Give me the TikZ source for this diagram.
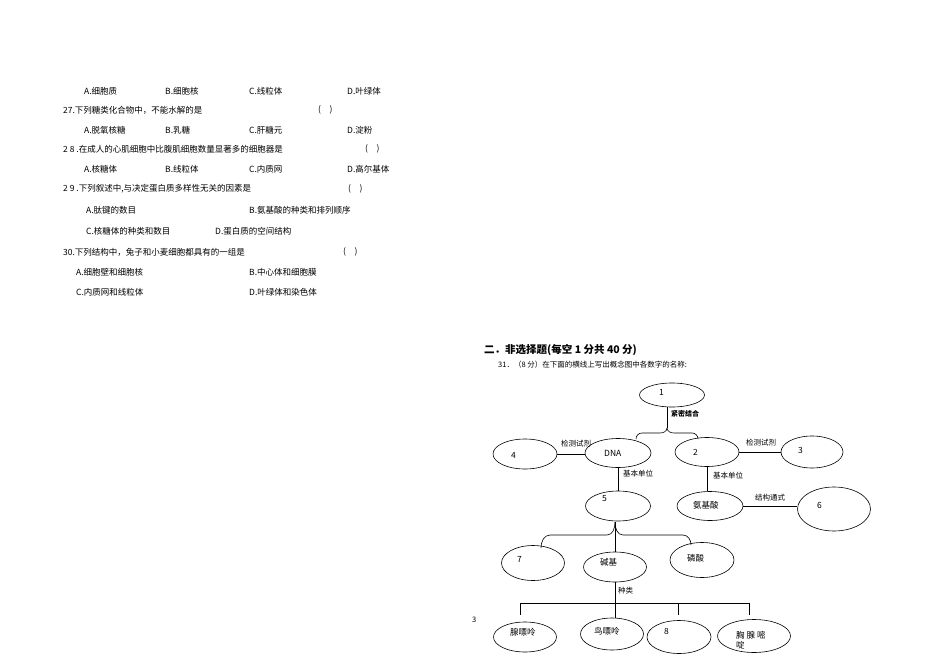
\documentclass[tikz,border=0pt]{standalone}
\usepackage{fontspec}
\setmainfont{Liberation Serif}
\newfontfamily\cjk{Noto Sans CJK SC}
\usetikzlibrary{shapes.geometric}
\begin{document}
\begin{tikzpicture}[x=1pt,y=-1pt,
  el/.style={draw,ellipse,line width=0.6pt,inner sep=0pt},
  tx/.style={anchor=west,inner sep=0pt,font=\cjk\fontsize{8.5}{10}\selectfont},
  lb/.style={anchor=west,inner sep=0pt,font=\cjk\fontsize{7.5}{9}\selectfont},
  ln/.style={line width=0.6pt}]
\useasboundingbox (0,0) rectangle (950,671);
% questions
\foreach \y/\a/\b/\c/\d in {91/A.细胞质/B.细胞核/C.线粒体/D.叶绿体,130/A.脱氧核糖/B.乳糖/C.肝糖元/D.淀粉,169/A.核糖体/B.线粒体/C.内质网/D.高尔基体}{
  \node[tx] at (84,\y) {\a}; \node[tx] at (165,\y) {\b}; \node[tx] at (249,\y) {\c}; \node[tx] at (347,\y) {\d};}
\node[tx] at (63,110) {27.下列糖类化合物中，不能水解的是};
\node[tx] at (318,110) {(\quad)};
\node[tx] at (63,149) {2 8 .在成人的心肌细胞中比腹肌细胞数量显著多的细胞器是};
\node[tx] at (365,149) {(\quad)};
\node[tx] at (63,189) {2 9 .下列叙述中,与决定蛋白质多样性无关的因素是};
\node[tx] at (348,189) {(\quad)};
\node[tx] at (86,210) {A.肽键的数目};
\node[tx] at (249,210) {B.氨基酸的种类和排列顺序};
\node[tx] at (86,231) {C.核糖体的种类和数目};
\node[tx] at (215,231) {D.蛋白质的空间结构};
\node[tx] at (63,252) {30.下列结构中，兔子和小麦细胞都具有的一组是};
\node[tx] at (343,252) {(\quad)};
\node[tx] at (76,272) {A.细胞壁和细胞核};
\node[tx] at (249,272) {B.中心体和细胞膜};
\node[tx] at (76,292) {C.内质网和线粒体};
\node[tx] at (249,292) {D.叶绿体和染色体};
% heading
\node[anchor=west,inner sep=0pt,font=\cjk\bfseries\fontsize{10.5}{12}\selectfont] at (484,350) {二．非选择题(每空 1 分共 40 分)};
\node[lb] at (498,365) {31．（8 分）在下面的横线上写出概念图中各数字的名称:};
\node[lb] at (472,620) {3};
% ellipses
\node[el,minimum width=65pt,minimum height=24pt] (n1) at (672,395) {};
\node[el,minimum width=66pt,minimum height=29pt] (dna) at (618,453) {};
\node[el,minimum width=64pt,minimum height=29pt] (n2) at (707,452) {};
\node[el,minimum width=64pt,minimum height=30pt] (n4) at (525,454) {};
\node[el,minimum width=62pt,minimum height=32pt] (n3) at (812,452) {};
\node[el,minimum width=65pt,minimum height=30pt] (n5) at (618,506) {};
\node[el,minimum width=66pt,minimum height=29pt] (aa) at (710,506) {};
\node[el,minimum width=73pt,minimum height=44pt] (n6) at (834,509) {};
\node[el,minimum width=63pt,minimum height=35pt] (n7) at (533,563) {};
\node[el,minimum width=63pt,minimum height=30pt] (jj) at (615,567) {};
\node[el,minimum width=64pt,minimum height=35pt] (ls) at (702,560) {};
\node[el,minimum width=63pt,minimum height=30pt] (xp) at (525,637) {};
\node[el,minimum width=63pt,minimum height=32pt] (np) at (612,634) {};
\node[el,minimum width=64pt,minimum height=33pt] (n8) at (679,637) {};
\node[el,minimum width=73pt,minimum height=33pt] (xx) at (754,636) {};
% texts
\node[tx] at (659,392) {1};
\node[tx] at (604,453) {DNA};
\node[tx] at (693,452) {2};
\node[tx] at (511,455) {4};
\node[tx] at (798,450) {3};
\node[tx] at (602,499) {5};
\node[tx] at (693,505) {氨基酸};
\node[tx] at (817,505) {6};
\node[tx] at (517,559) {7};
\node[tx] at (600,562) {碱基};
\node[tx] at (687,558) {磷酸};
\node[tx] at (510,632) {腺嘌呤};
\node[tx] at (594,631) {鸟嘌呤};
\node[tx] at (664,631) {8};
\node[tx,align=left] at (736,640) {胸\ 腺\ 嘧\\啶};
% connectors
\coordinate (t1) at (667,428);
\draw[ln] (n1.south -| t1) -- (t1);
\node[lb,font=\cjk\bfseries\fontsize{7}{8}\selectfont] at (671,414) {紧密结合};
\draw[ln] (t1) to[out=-90,in=0] (660,433) -- (642,433) to[out=180,in=90] (636,439);
\draw[ln] (t1) to[out=-90,in=180] (674,433) -- (692,433) to[out=0,in=90] (698,439);
\draw[ln] (n4.east) -- (n4.east -| dna.west);
\node[lb] at (561,444) {检测试剂};
\draw[ln] (n2.east) -- (n2.east -| n3.west);
\node[lb] at (746,443) {检测试剂};
\draw[ln] (dna.south) -- (n5.north);
\node[lb] at (623,474) {基本单位};
\draw[ln] (n2.south) -- (n2.south |- aa.north);
\node[lb] at (713,476) {基本单位};
\draw[ln] (aa.east) -- (aa.east -| n6.west);
\node[lb] at (755,498) {结构通式};
\coordinate (t5) at (615,522);
\draw[ln] (t5) -- (jj.north);
\draw[ln] (t5) to[out=-90,in=0] (607,535) -- (550,535) to[out=180,in=90] (541,548);
\draw[ln] (t5) to[out=-90,in=180] (623,535) -- (683,535) to[out=0,in=90] (691,545);
\coordinate (h) at (615,603);
\draw[ln] (jj.south) -- (h);
\node[lb] at (618,591) {种类};
\draw[ln] (520,603) -- (749,603);
\draw[ln] (520,603) -- (520,615);
\draw[ln] (h) -- (h |- np.north);
\draw[ln] (678,603) -- (678,615);
\draw[ln] (749,603) -- (749,615);
\end{tikzpicture}
\end{document}
